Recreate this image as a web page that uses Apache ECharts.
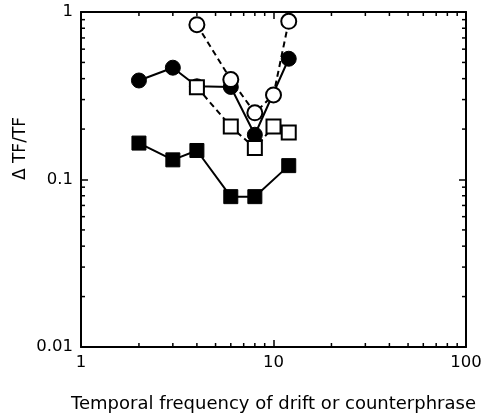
<!DOCTYPE html>
<html><head><meta charset="utf-8">
<script src="https://cdn.jsdelivr.net/npm/echarts@6/dist/echarts.min.js"></script>
<style>html,body{margin:0;padding:0;background:#fff}#c{width:483px;height:414px}</style>
</head><body><div id="c"></div>
<script>
// Data
const filledCircleX = [2, 3, 4, 6, 8, 12];
const filledCircleY = [0.39, 0.465, 0.36, 0.357, 0.185, 0.526];
const openCircleX = [4, 6, 8, 10, 12];
const openCircleY = [0.84, 0.395, 0.25, 0.32, 0.88];
const openSquareX = [4, 6, 8, 10, 12];
const openSquareY = [0.356, 0.207, 0.154, 0.207, 0.191];
const filledSquareX = [2, 3, 4, 6, 8, 12];
const filledSquareY = [0.165, 0.131, 0.149, 0.079, 0.079, 0.121];
const xMinorTicks = [2,3,4,5,6,7,8,9,20,30,40,50,60,70,80,90];
const yMinorTicks = [0.02,0.03,0.04,0.05,0.06,0.07,0.08,0.09,0.2,0.3,0.4,0.5,0.6,0.7,0.8,0.9];
const xName = 'Temporal frequency of drift or counterphrase';
const yName = 'Δ TF/TF';

const zip = (xs, ys) => xs.map((x, i) => [x, ys[i]]);
const font = 'DejaVu Sans, Liberation Sans, Arial, sans-serif';

const chart = echarts.init(document.getElementById('c'), null, {renderer: 'canvas'});

const minorSeries = {
  type: 'custom',
  silent: true,
  z: 1,
  data: [0],
  renderItem: function (params, api) {
    const bl = api.coord([1, 0.01]);
    const tr = api.coord([100, 1]);
    const L = 4;
    const children = [];
    const st = {stroke: '#000', lineWidth: 1.5};
    xMinorTicks.forEach(v => {
      const x = api.coord([v, 0.1])[0];
      children.push({type: 'line', shape: {x1: x, y1: bl[1], x2: x, y2: bl[1] - L}, style: st});
      children.push({type: 'line', shape: {x1: x, y1: tr[1], x2: x, y2: tr[1] + L}, style: st});
    });
    yMinorTicks.forEach(v => {
      const y = api.coord([10, v])[1];
      children.push({type: 'line', shape: {x1: bl[0], y1: y, x2: bl[0] + L, y2: y}, style: st});
      children.push({type: 'line', shape: {x1: tr[0], y1: y, x2: tr[0] - L, y2: y}, style: st});
    });
    return {type: 'group', children: children};
  }
};

const lineStyleSolid = {color: '#000', width: 2, type: 'solid'};
const lineStyleDash = {color: '#000', width: 2, type: [6, 4]};

chart.setOption({
  animation: false,
  backgroundColor: '#fff',
  grid: {left: 81, right: 17, top: 12, bottom: 67, outerBoundsMode: 'none', containLabel: false},
  xAxis: [{
    type: 'log', logBase: 10, min: 1, max: 100,
    name: xName, nameLocation: 'middle', nameGap: 48, nameMoveOverlap: false,
    nameTextStyle: {color: '#000', fontSize: 18, fontFamily: font},
    axisLine: {show: true, lineStyle: {color: '#000', width: 2}},
    axisTick: {show: true, inside: true, length: 7, lineStyle: {color: '#000', width: 1.5}},
    axisLabel: {color: '#000', fontSize: 16.5, fontFamily: font, margin: 7},
    splitLine: {show: false},
    minorTick: {show: false}
  }, {
    type: 'log', logBase: 10, min: 1, max: 100, position: 'top',
    axisLine: {show: true, lineStyle: {color: '#000', width: 2}},
    axisTick: {show: true, inside: true, length: 7, lineStyle: {color: '#000', width: 1.5}},
    axisLabel: {show: false},
    splitLine: {show: false}
  }],
  yAxis: [{
    type: 'log', logBase: 10, min: 0.01, max: 1,
    name: yName, nameLocation: 'middle', nameGap: 52, nameRotate: 90, nameMoveOverlap: false,
    nameTextStyle: {color: '#000', fontSize: 17, fontFamily: font, padding: [0, 0, 0, 62]},
    axisLine: {show: true, lineStyle: {color: '#000', width: 2}},
    axisTick: {show: true, inside: true, length: 7, lineStyle: {color: '#000', width: 1.5}},
    axisLabel: {color: '#000', fontSize: 16.5, fontFamily: font, margin: 8,
      formatter: v => (v >= 1 ? '1' : (v >= 0.1 ? '0.1' : '0.01'))},
    splitLine: {show: false}
  }, {
    type: 'log', logBase: 10, min: 0.01, max: 1, position: 'right',
    axisLine: {show: true, lineStyle: {color: '#000', width: 2}},
    axisTick: {show: true, inside: true, length: 7, lineStyle: {color: '#000', width: 1.5}},
    axisLabel: {show: false},
    splitLine: {show: false}
  }],
  series: [
    minorSeries,
    {type: 'line', data: zip(openCircleX, openCircleY), symbol: 'circle', symbolSize: 15,
      lineStyle: lineStyleDash, itemStyle: {color: '#fff', borderColor: '#000', borderWidth: 2}, z: 3},
    {type: 'line', data: zip(filledCircleX, filledCircleY), symbol: 'circle', symbolSize: 15,
      lineStyle: lineStyleSolid, itemStyle: {color: '#000', borderColor: '#000', borderWidth: 1}, z: 2},
    {type: 'line', data: zip(openSquareX, openSquareY), symbol: 'rect', symbolSize: 14,
      lineStyle: lineStyleDash, itemStyle: {color: '#fff', borderColor: '#000', borderWidth: 2}, z: 4},
    {type: 'line', data: zip(filledSquareX, filledSquareY), symbol: 'rect', symbolSize: 14,
      lineStyle: lineStyleSolid, itemStyle: {color: '#000', borderColor: '#000', borderWidth: 1}, z: 2}
  ]
});
</script></body></html>
